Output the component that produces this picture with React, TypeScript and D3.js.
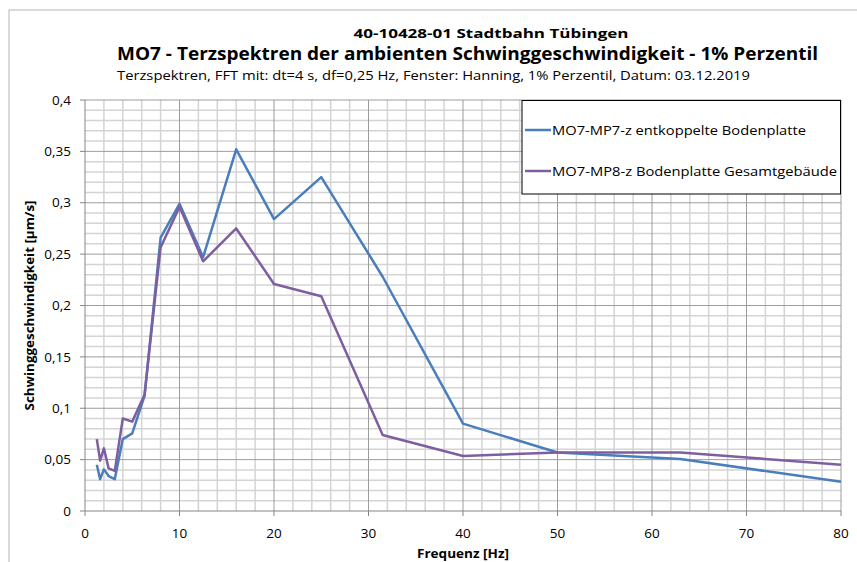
import * as d3 from 'd3';

const freqs = [1.25, 1.6, 2, 2.5, 3.15, 4, 5, 6.3, 8, 10, 12.5, 16, 20, 25, 31.5, 40, 50, 63, 80];
const mp7 = [0.045, 0.031, 0.0405, 0.034, 0.031, 0.07, 0.0755, 0.112, 0.266, 0.299, 0.247, 0.352, 0.284, 0.325, 0.228, 0.085, 0.057, 0.0505, 0.0285];
const mp8 = [0.07, 0.049, 0.061, 0.0415, 0.039, 0.09, 0.087, 0.113, 0.2565, 0.296, 0.243, 0.275, 0.221, 0.209, 0.074, 0.0535, 0.057, 0.057, 0.045];
const seriesNames = ['MO7-MP7-z entkoppelte Bodenplatte', 'MO7-MP8-z Bodenplatte Gesamtgebäude'];
const seriesColors = ['#4a7ebb', '#7d5fa0'];
const xTicks = [0, 10, 20, 30, 40, 50, 60, 70, 80];
const yTicks = [0, 0.05, 0.1, 0.15, 0.2, 0.25, 0.3, 0.35, 0.4];

const W = 857;
const H = 562;
const plot = { left: 85, right: 841, top: 100, bottom: 511 };
const font = '"Open Sans", "DejaVu Sans", sans-serif';

export default function App() {
  const x = d3.scaleLinear().domain([0, 80]).range([plot.left, plot.right]);
  const y = d3.scaleLinear().domain([0, 0.4]).range([plot.bottom, plot.top]);

  const line = d3
    .line<number>()
    .x((_, i) => x(freqs[i]))
    .y((d) => y(d));

  const minorX = d3.range(0, 81, 2).filter((v) => v % 10 !== 0);
  const minorY = d3.range(0, 41, 1).filter((v) => v % 5 !== 0).map((v) => v / 100);
  const fmt = (v: number) => (v === 0 ? '0' : String(+v.toFixed(2)).replace('.', ','));

  return (
    <svg width={W} height={H} style={{ position: 'absolute', left: 0, top: 0, background: '#fff' }} fontFamily={font}>
      {/* chart frame */}
      <path d={`M9,${H} V10 H${W}`} fill="none" stroke="#b3b3b3" strokeWidth={1} />

      {/* titles */}
      <text x={491} y={38} textAnchor="middle" fontSize={12.5} fontWeight="bold" textLength={275} lengthAdjust="spacingAndGlyphs">
        40-10428-01 Stadtbahn Tübingen
      </text>
      <text x={467.5} y={60} textAnchor="middle" fontSize={17.5} fontWeight="bold" textLength={701} lengthAdjust="spacingAndGlyphs">
        MO7 - Terzspektren der ambienten Schwinggeschwindigkeit - 1% Perzentil
      </text>
      <text x={433.5} y={80} textAnchor="middle" fontSize={13.5} textLength={633} lengthAdjust="spacingAndGlyphs">
        Terzspektren, FFT mit: dt=4 s, df=0,25 Hz, Fenster: Hanning, 1% Perzentil, Datum: 03.12.2019
      </text>

      {/* minor grid */}
      {minorX.map((v) => (
        <line key={'mx' + v} x1={x(v)} x2={x(v)} y1={plot.top} y2={plot.bottom} stroke="#d4d4d4" strokeWidth={1.5} />
      ))}
      {minorY.map((v) => (
        <line key={'my' + v} x1={plot.left} x2={plot.right} y1={y(v)} y2={y(v)} stroke="#d4d4d4" strokeWidth={1.5} />
      ))}
      {/* major grid */}
      {xTicks.slice(1).map((v) => (
        <line key={'gx' + v} x1={x(v)} x2={x(v)} y1={plot.top} y2={plot.bottom} stroke="#9c9c9c" strokeWidth={1} />
      ))}
      {yTicks.slice(1).map((v) => (
        <line key={'gy' + v} x1={plot.left} x2={plot.right} y1={y(v)} y2={y(v)} stroke="#9c9c9c" strokeWidth={1} />
      ))}

      {/* axes */}
      <line x1={plot.left} x2={plot.left} y1={plot.top} y2={plot.bottom} stroke="#868686" />
      <line x1={plot.left} x2={plot.right} y1={plot.bottom} y2={plot.bottom} stroke="#868686" />
      {yTicks.map((v) => (
        <g key={'yt' + v}>
          <line x1={plot.left - 5} x2={plot.left} y1={y(v)} y2={y(v)} stroke="#868686" />
          <text x={71} y={y(v)} dy="0.35em" textAnchor="end" fontSize={13.5} fill="#000">
            {fmt(v)}
          </text>
        </g>
      ))}
      {xTicks.map((v) => (
        <g key={'xt' + v}>
          <line x1={x(v)} x2={x(v)} y1={plot.bottom} y2={plot.bottom + 5} stroke="#868686" />
          <text x={x(v)} y={538} textAnchor="middle" fontSize={13.5} fill="#000">
            {v}
          </text>
        </g>
      ))}

      {/* axis titles */}
      <text
        transform={`translate(34,${(plot.top + plot.bottom) / 2}) rotate(-90)`}
        textAnchor="middle"
        fontSize={12.5}
        fontWeight="bold"
        textLength={210}
        lengthAdjust="spacingAndGlyphs"
      >
        Schwinggeschwindigkeit [µm/s]
      </text>
      <text x={463} y={558} textAnchor="middle" fontSize={12} fontWeight="bold" textLength={92} lengthAdjust="spacingAndGlyphs">
        Frequenz [Hz]
      </text>

      {/* series */}
      <path d={line(mp7) || ''} fill="none" stroke={seriesColors[0]} strokeWidth={2.5} strokeLinejoin="round" />
      <path d={line(mp8) || ''} fill="none" stroke={seriesColors[1]} strokeWidth={2.5} strokeLinejoin="round" />

      {/* legend */}
      <rect x={522} y={100.5} width={318.5} height={93.5} fill="#fff" stroke="#000" strokeWidth={1} />
      {seriesNames.map((name, i) => {
        const ly = 130 + i * 41;
        return (
          <g key={name}>
            <line x1={525} x2={551} y1={ly} y2={ly} stroke={seriesColors[i]} strokeWidth={2.5} />
            <text x={552} y={ly} dy="0.35em" fontSize={13.5} textLength={i === 0 ? 254 : 285} lengthAdjust="spacingAndGlyphs">
              {name}
            </text>
          </g>
        );
      })}
    </svg>
  );
}
